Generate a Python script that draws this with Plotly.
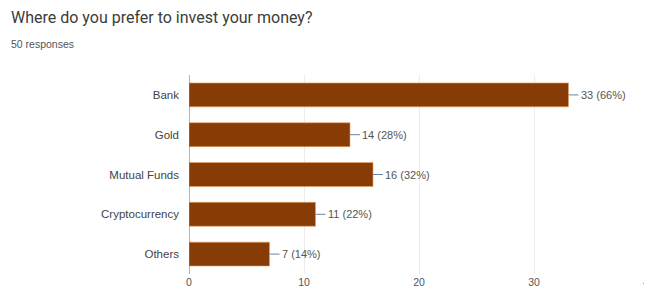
import plotly.graph_objects as go

categories = ["Bank", "Gold", "Mutual Funds", "Cryptocurrency", "Others"]
counts = [33, 14, 16, 11, 7]
percents = [66, 28, 32, 22, 14]
x_ticks = [0, 10, 20, 30, 40]

labels = [f"{c} ({p}%)" for c, p in zip(counts, percents)]
FONT = "Arial, Liberation Sans, sans-serif"

fig = go.Figure()
fig.add_trace(go.Bar(
    y=categories, x=counts, orientation="h",
    marker=dict(color="#873c05", line=dict(color="#e8a060", width=0.6)),
    width=0.6, hoverinfo="skip",
))

for cat, val, lab in zip(categories, counts, labels):
    fig.add_annotation(
        x=val, y=cat, xref="x", yref="y", text=lab,
        showarrow=True, arrowhead=0, arrowwidth=1, arrowcolor="#6a86a8",
        ax=10, ay=0, xanchor="left", standoff=0,
        font=dict(family=FONT, size=11, color="#555555"),
    )

fig.update_layout(
    width=644, height=284,
    margin=dict(l=181, r=3, t=67, b=18, autoexpand=False),
    paper_bgcolor="white", plot_bgcolor="white",
    showlegend=False,
    font=dict(family=FONT, size=10.5, color="#555555"),
)
fig.update_xaxes(
    range=[0, 40], tickvals=x_ticks, ticktext=[str(t) for t in x_ticks],
    showgrid=True, gridcolor="#ebebeb", gridwidth=1, zeroline=False,
    showline=False, ticks="", tickfont=dict(size=10.5, color="#555555"),
    automargin=False, ticklabeloverflow="allow",
)
fig.update_yaxes(
    categoryorder="array", categoryarray=categories, autorange="reversed",
    showgrid=False, zeroline=False, showline=False, ticks="",
    tickfont=dict(size=11.5, color="#444444"), ticklabelstandoff=9,
    automargin=False,
)
fig.add_shape(type="line", xref="x", yref="paper", x0=0, x1=0, y0=0, y1=1,
              line=dict(color="#6a6a6a", width=1))

fig.add_annotation(
    xref="paper", yref="paper", x=-180/460, y=1 + 57/199, xanchor="left", yanchor="middle",
    text="Where do you prefer to invest your money?", showarrow=False,
    font=dict(family="Roboto, Arial, sans-serif", size=16, color="#3c3c3c"),
)
fig.add_annotation(
    xref="paper", yref="paper", x=-180/460, y=1 + 31/199, xanchor="left", yanchor="middle",
    text="50 responses", showarrow=False,
    font=dict(family=FONT, size=10.5, color="#555555"),
)

fig.write_html("out.html")
